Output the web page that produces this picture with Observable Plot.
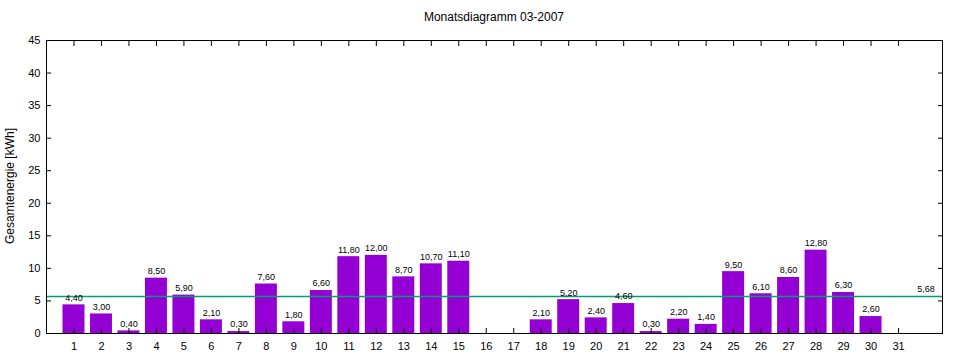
<!DOCTYPE html>
<html><head><meta charset="utf-8">
<script src="https://cdn.jsdelivr.net/npm/d3@7"></script>
<script src="https://cdn.jsdelivr.net/npm/@observablehq/plot@0.6"></script>
<style>
body{margin:0;background:#fff;font-family:"Liberation Sans",Arial,sans-serif;}
#chart{position:relative;width:960px;height:360px;}
</style></head>
<body><div id="chart"></div>
<script>
const title = "Monatsdiagramm 03-2007";
const yLabel = "Gesamtenergie [kWh]";
const days = [1,2,3,4,5,6,7,8,9,10,11,12,13,14,15,16,17,18,19,20,21,22,23,24,25,26,27,28,29,30,31];
const values = [4.4,3.0,0.4,8.5,5.9,2.1,0.3,7.6,1.8,6.6,11.8,12.0,8.7,10.7,11.1,null,null,2.1,5.2,2.4,4.6,0.3,2.2,1.4,9.5,6.1,8.6,12.8,6.3,2.6,null];
const yTicks = [0,5,10,15,20,25,30,35,40,45];
const average = 5.68;
const averageLabelPos = 32;

const fmt = v => v.toFixed(2).replace(".", ",");
const data = days.map((d,i)=>({day:d, v:values[i]})).filter(d=>d.v!=null);

const plot = Plot.plot({
  width: 960, height: 360,
  marginLeft: 46, marginRight: 18, marginTop: 40, marginBottom: 27,
  style: {fontFamily: "'Liberation Sans', Arial, sans-serif", fontSize: "11px", color: "#000", background: "#fff"},
  x: {domain: [0, 32.6], label: null},
  y: {domain: [0, 45], label: null},
  marks: [
    Plot.rectY(data, {x1: d=>d.day-0.4, x2: d=>d.day+0.4, y: "v", fill: "#9400d3"}),
    Plot.ruleY([average], {stroke: "#009e73", strokeWidth: 1.3}),
    Plot.text(data, {x: "day", y: "v", text: d=>fmt(d.v), dy: -7, fontSize: 9, fill: "#000"}),
    Plot.text([average], {x: averageLabelPos, y: d=>d, text: d=>fmt(d), dy: -7, fontSize: 9, fill: "#000"}),
    Plot.axisX(days, {anchor: "bottom", tickSize: -5, text: null, label: null}),
    Plot.axisX(days, {anchor: "top", tickSize: -5, text: null, label: null}),
    Plot.axisX(days, {anchor: "bottom", tickSize: 0, tickPadding: 9, label: null, fontSize: 11}),
    Plot.axisY(yTicks, {anchor: "left", tickSize: -5, text: null, label: null}),
    Plot.axisY(yTicks, {anchor: "right", tickSize: -5, text: null, label: null}),
    Plot.axisY(yTicks, {anchor: "left", tickSize: 0, tickPadding: 6, label: null, fontSize: 11}),
    Plot.frame({stroke: "#000"})
  ]
});
const chart = document.getElementById("chart");
chart.appendChild(plot);
const t = document.createElement("div");
t.textContent = title;
t.style.cssText = "position:absolute;left:0;width:988px;top:10px;text-align:center;font-size:12px;color:#000;";
chart.appendChild(t);
const yl = document.createElement("div");
yl.textContent = yLabel;
yl.style.cssText = "position:absolute;left:10px;top:186px;font-size:12px;color:#000;white-space:nowrap;transform:translate(-50%,-50%) rotate(-90deg);";
chart.appendChild(yl);
</script></body></html>
